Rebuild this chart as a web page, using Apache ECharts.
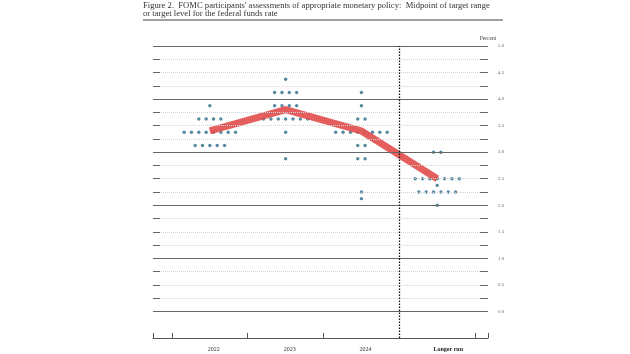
<!DOCTYPE html>
<html><head><meta charset="utf-8">
<script src="https://cdn.jsdelivr.net/npm/echarts@6/dist/echarts.min.js"></script>
<style>html,body{margin:0;padding:0;background:#fff}#c{width:630px;height:354px}</style>
</head><body><div id="c"></div>
<script>
const categories = ['2022', '2023', '2024', 'Longer run'];
// [rate midpoint, number of participants]
const dots2022 = [[3.875, 1], [3.625, 4], [3.375, 8], [3.125, 5]];
const dots2023 = [[4.375, 1], [4.125, 4], [3.875, 4], [3.625, 7], [3.375, 1], [2.875, 1]];
const dots2024 = [[4.125, 1], [3.875, 1], [3.625, 2], [3.375, 8], [3.125, 2], [2.875, 2], [2.25, 1], [2.125, 1]];
const dotsLonger = [[3.0, 2], [2.5, 7], [2.375, 1], [2.25, 6], [2.0, 1]];
const medians = [3.4, 3.8, 3.4, 2.5];
const yLabelValues = [0, 0.5, 1, 1.5, 2, 2.5, 3, 3.5, 4, 4.5, 5];
const majorLines = [0, 1, 2, 3, 4, 5];
const minorLines = [0.25, 0.5, 0.75, 1.25, 1.5, 1.75, 2.25, 2.5, 2.75, 3.25, 3.5, 3.75, 4.25, 4.5, 4.75];
const xTickValues = [-0.75, -0.5, 0.5, 1.5, 3.5, 3.67];
const xLabelValues = [0, 1, 2, 3];

const allLines = majorLines.concat(minorLines).sort((a, b) => a - b);
const dotGroups = [dots2022, dots2023, dots2024, dotsLonger];
const SP = 0.097;
const scatterData = [];
dotGroups.forEach((g, i) => {
  g.forEach(([v, n]) => {
    for (let k = 0; k < n; k++) scatterData.push([i + (k - (n - 1) / 2) * SP, v]);
  });
});
const medianData = medians.map((m, i) => [i, m]);
const serif = "'Liberation Serif','DejaVu Serif',serif";

const chart = echarts.init(document.getElementById('c'), null, {renderer: 'canvas'});
chart.setOption({
  animation: false,
  title: {
    text: "Figure 2.  FOMC participants' assessments of appropriate monetary policy:  Midpoint of target range\nor target level for the federal funds rate",
    left: 143, top: 0, padding: [1, 0, 0, 0],
    textStyle: {fontFamily: serif, fontSize: 8.6, fontWeight: 'normal', color: '#333', lineHeight: 8.5}
  },
  graphic: [{type: 'rect', left: 143, top: 19, shape: {width: 360, height: 2}, style: {fill: '#a0a0a0'}}],
  grid: {left: 153, right: 142, top: 46, bottom: 16, containLabel: false},
  xAxis: {
    type: 'value', min: -0.75, max: 3.67,
    axisLine: {show: true, onZero: false, lineStyle: {color: '#555', width: 1}},
    axisTick: {show: true, inside: true, length: 5, customValues: xTickValues, lineStyle: {color: '#555'}},
    axisLabel: {
      customValues: xLabelValues, margin: 8,
      formatter: v => {
        const i = Math.round(v);
        return i === 3 ? '{lr|' + categories[i] + '}' : '{yr|' + categories[i] + '}';
      },
      rich: {
        yr: {fontFamily: serif, fontSize: 6, color: '#333', padding: [0, 0, 0, 8]},
        lr: {fontFamily: serif, fontSize: 6, color: '#222', fontWeight: 'bold', padding: [0, 0, 0, 22]}
      }
    },
    splitLine: {show: false}
  },
  yAxis: [{
    type: 'value', min: -0.5, max: 5, interval: 0.25, position: 'left', z: 10,
    axisLine: {show: false, onZero: false},
    axisTick: {show: true, inside: true, length: 7, customValues: allLines, lineStyle: {color: '#666'}},
    axisLabel: {show: false},
    splitLine: {show: false}
  }, {
    type: 'value', min: -0.5, max: 5, interval: 0.25, position: 'right', z: 10,
    name: 'Percent', nameLocation: 'end', nameGap: 4,
    nameTextStyle: {fontFamily: serif, fontSize: 5.5, color: '#444'},
    axisLine: {show: false, onZero: false},
    axisTick: {show: true, inside: true, length: 8, customValues: allLines, lineStyle: {color: '#666'}},
    axisLabel: {customValues: yLabelValues, margin: 10, fontFamily: serif, fontSize: 5, color: '#666',
      formatter: v => v.toFixed(1)},
    splitLine: {show: false}
  }],
  series: [{
    type: 'line', data: [], silent: true,
    markLine: {
      silent: true, symbol: 'none', label: {show: false},
      data: minorLines.map(v => ({yAxis: v, lineStyle: {color: '#d2d2d2', type: [1, 1], width: 1}}))
        .concat(majorLines.map(v => ({yAxis: v, lineStyle: {color: '#666', type: 'solid', width: 1}})))
        .concat([{xAxis: 2.5, lineStyle: {color: '#111', type: [1.5, 1.5], width: 1.3}}])
    }
  }, {
    type: 'scatter', data: scatterData, symbolSize: 3.4, z: 3,
    itemStyle: {color: '#2a6b8a'}
  }, {
    type: 'line', data: medianData, symbol: 'none', z: 4,
    lineStyle: {color: '#e2504f', width: 7, cap: 'butt', join: 'miter', opacity: 0.92}
  }]
});
</script></body></html>
